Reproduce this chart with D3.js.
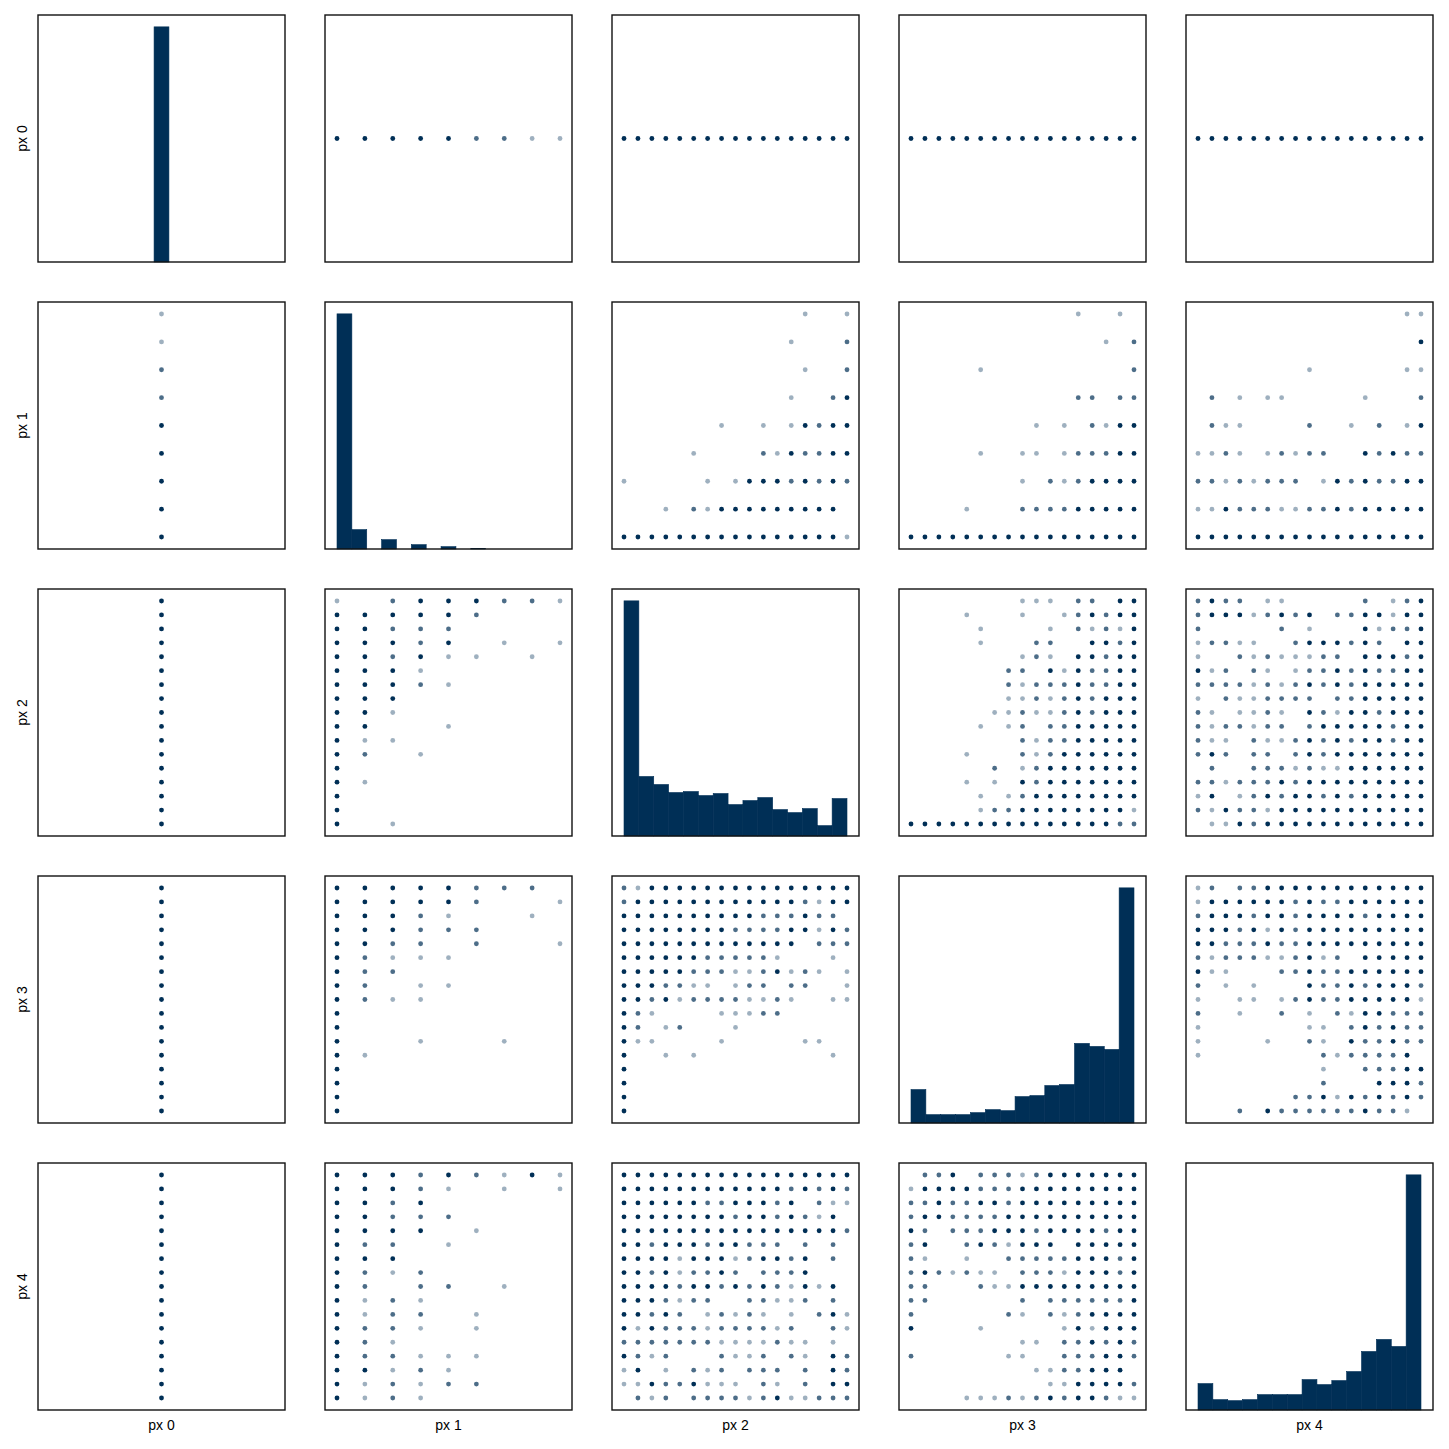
<!DOCTYPE html>
<html><head><meta charset="utf-8">
<script src="https://cdn.jsdelivr.net/npm/d3@7"></script>
<style>body{margin:0;background:#fff}</style></head>
<body><svg id="c" width="1449" height="1449"></svg>
<script>
const vars = ["px 0","px 1","px 2","px 3","px 4"];
const maxVal = [0, 8, 16, 16, 16];
// histogram bin counts (15 bins over each variable's range)
const hist0 = [1797];
const hist1 = [703,58,0,28,0,13,0,7,0,2,0,0,0,0,0];
const hist2 = [703,178,154,130,133,121,127,94,106,115,79,70,82,31,112];
const hist3 = [100,25,25,25,31,40,37,79,82,112,115,238,229,220,703];
const hist4 = [79,31,28,31,46,46,46,91,76,88,115,175,211,190,703];
const hists = [hist0,hist1,hist2,hist3,hist4];
// density grids: rows = row variable value from high to low, cols = column variable value from 0 up
// '.' none, '1' few, '2' some, '3' many
const g0 = {1:["333332211"],2:["33333333333333333"],3:["33333333333333333"],4:["33333333333333333"]};
const g12 = [
".............1..1",
"............1...2",
".............1..2",
"............1..23",
".......1..1.13233",
".....1....2132233",
"1.....1.133323232",
"...1.21333333333.",
"33333333333333331"];
const g13 = [
"............1..1.",
"..............1.2",
".....1..........2",
"............22.22",
".........1.1.2133",
".....1..11.122233",
"........1.2123333",
"....1...222233333",
"33333333333333333"];
const g14 = [
"...............11",
"................3",
"........1......11",
".2.1.11.....1...2",
".211....2..1.2.13",
"1121.12122..32322",
"22121222.13232233",
"11322211223233333",
"33333333333333333"];
const g23 = [
"........111.22.33",
"....1...1..123233",
".....1....1.21213",
".....1...22..3323",
"........121.33233",
".......22.3132233",
".......2122232233",
".......1121232333",
"......11211232333",
".....1.12.2233333",
"........212233333",
"....1...212333333",
"......2.123333333",
"....1.1.323333333",
".....1.1233333333",
".....122333333331",
"33333333333333322"];
const g24 = [
"2322.11.....2.123",
"233312323.2233133",
"2.....2.1...31223",
"12211..2333232.33",
"1..21211122.33323",
"312.21.1223232233",
"22221212323233333",
"1.2112222.2233333",
"21.1121.321332333",
"2122122.233333233",
"211.2112323233233",
"232.22.2323333333",
".2..2221211333333",
"22122232333333333",
"13.12323323233333",
"21322133333333333",
".1132333333333333"];
const g34 = [
"12.22333333333333",
"13333332322333333",
"23332332333323333",
"33323132333333333",
"33222322333333333",
"21222112312.33333",
"311...22322333333",
"2.1.1...322323332",
"1..11.12322333331",
"2..1..2.1.2133222",
"1.......11.232322",
"1....1..21.322322",
"1........2122223.",
".........1..22233",
".........2...3332",
".......2231323232",
"...2.32222223221."];
const grids = {"1-2":g12,"1-3":g13,"1-4":g14,"2-3":g23,"2-4":g24,"3-4":g34};

const color = "#002f56";
const alpha = {"1":0.38,"2":0.7,"3":1};
const svg = d3.select("#c");
const L = 38, T = 15, step = 287, S = 247, pad = 12;
const font = "Liberation Sans, Arial, sans-serif";

function scaleFor(v, a, b) {
  const s = d3.scaleLinear().range([a, b]);
  if (maxVal[v] === 0) s.domain([-0.5, 0.5]); else s.domain([0, maxVal[v]]);
  return s;
}
function density(r, c, xv, yv) {
  if (r === 0 || c === 0) {
    const other = r === 0 ? c : r;
    const val = r === 0 ? xv : yv;
    return g0[other][0][val];
  }
  const a = Math.min(r, c), b = Math.max(r, c);
  const g = grids[a + "-" + b];
  const av = r < c ? yv : xv, bv = r < c ? xv : yv;
  return g[maxVal[a] - av][bv];
}

for (let r = 0; r < 5; r++) for (let c = 0; c < 5; c++) {
  const x0 = L + step * c, y0 = T + step * r;
  const g = svg.append("g");
  const xs = scaleFor(c, x0 + pad, x0 + S - pad);
  if (r === c) {
    const h = hists[c];
    const n = h.length;
    let edges;
    if (maxVal[c] === 0) edges = [-0.5 / 15, 0.5 / 15];
    else edges = d3.range(n + 1).map(i => i * maxVal[c] / n);
    const ys = d3.scaleLinear().domain([0, d3.max(h) / 0.952]).range([y0 + S, y0]);
    g.selectAll("rect").data(h).join("rect")
      .attr("x", (d, i) => xs(edges[i]))
      .attr("width", (d, i) => xs(edges[i + 1]) - xs(edges[i]))
      .attr("y", d => ys(d)).attr("height", d => ys(0) - ys(d))
      .attr("fill", color).attr("stroke", d => d > 0 ? color : "none").attr("stroke-width", 0.6);
  } else {
    const ys = scaleFor(r, y0 + S - pad, y0 + pad);
    const pts = [];
    for (let xv = 0; xv <= maxVal[c]; xv++) for (let yv = 0; yv <= maxVal[r]; yv++) {
      const d = density(r, c, xv, yv);
      if (d && d !== ".") pts.push({xv, yv, d});
    }
    g.selectAll("circle").data(pts).join("circle")
      .attr("cx", p => xs(p.xv)).attr("cy", p => ys(p.yv)).attr("r", 2.4)
      .attr("fill", color).attr("fill-opacity", p => alpha[p.d]);
  }
  g.append("rect").attr("x", x0).attr("y", y0).attr("width", S).attr("height", S)
    .attr("fill", "none").attr("stroke", "#111").attr("stroke-width", 1.4);
  if (c === 0) svg.append("text").attr("transform", `translate(27,${y0 + S / 2}) rotate(-90)`)
    .attr("text-anchor", "middle").attr("font-family", font).attr("font-size", 14).text(vars[r]);
  if (r === 4) svg.append("text").attr("x", x0 + S / 2).attr("y", y0 + S + 20)
    .attr("text-anchor", "middle").attr("font-family", font).attr("font-size", 14).text(vars[c]);
}
</script></body></html>
